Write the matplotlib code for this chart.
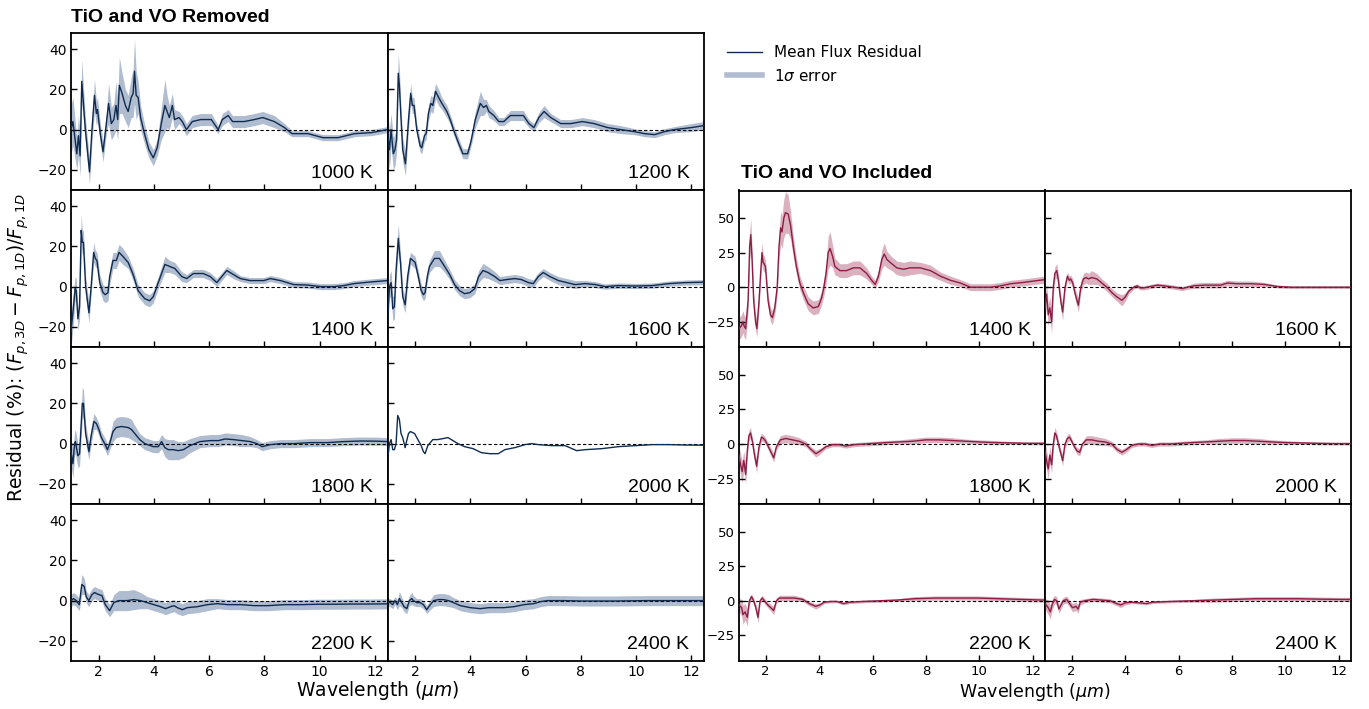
import numpy as np
import matplotlib
matplotlib.use("Agg")
import matplotlib.pyplot as plt
from matplotlib.lines import Line2D

# ---------------------------------------------------------------
# Mean flux residual (%) and 1-sigma spread, TiO/VO removed
# ---------------------------------------------------------------
wl_rm_1000 = [1.00, 1.07, 1.21, 1.27, 1.33, 1.39, 1.52, 1.67, 1.76, 1.85, 1.92, 1.96, 2.06, 2.16, 2.28, 2.36,
              2.46, 2.55, 2.63, 2.69, 2.75, 2.85, 2.97, 3.07, 3.18, 3.25, 3.30, 3.36, 3.43, 3.52, 3.66, 3.82,
              3.98, 4.12, 4.27, 4.40, 4.48, 4.56, 4.67, 4.75, 4.91, 5.03, 5.18, 5.39, 5.70, 6.08, 6.33, 6.48,
              6.69, 6.85, 7.27, 7.64, 7.94, 8.36, 8.73, 9.00, 9.58, 10.12, 10.67, 11.27, 11.88, 12.46]
mu_rm_1000 = [0, 4, -12, -3, -13, 24, 0, -21, 0, 17, 8, 10, -2, -11, 3, 13,
              3, 5, 12, 5, 22, 18, 12, 9, 16, 18, 29, 17, 16, 6, -2, -10,
              -14, -9, 3, 12, 9, 6, 12, 5, 6, 4, 0, 4, 5, 5, 0, 5,
              7, 4, 4, 5, 6, 4, 1, -2, -2, -4, -4, -2, -1.5, 0]
sd_rm_1000 = [12, 12, 8, 10, 10, 11, 6, 6, 6, 8, 6, 6, 5, 5, 5, 10,
              8, 8, 12, 10, 14, 10, 8, 8, 10, 12, 16, 12, 8, 6, 5, 4,
              4, 4, 8, 13, 8, 6, 6, 5, 3, 3, 3, 3, 3, 3, 2, 3,
              3, 3, 3, 3, 3, 3, 2, 1.5, 1.5, 1.5, 1.5, 1.5, 1.5, 1.5]

wl_rm_1200 = [1.00, 1.07, 1.13, 1.21, 1.27, 1.33, 1.39, 1.43, 1.48, 1.55, 1.65, 1.76, 1.84, 1.90, 1.96, 2.06,
              2.18, 2.24, 2.34, 2.40, 2.48, 2.57, 2.64, 2.74, 2.85, 2.97, 3.15, 3.27, 3.39, 3.58, 3.73, 3.90,
              4.02, 4.18, 4.36, 4.48, 4.58, 4.67, 4.85, 5.03, 5.21, 5.45, 5.70, 5.92, 6.12, 6.30, 6.48, 6.67,
              6.91, 7.27, 7.64, 8.06, 8.48, 8.97, 9.45, 9.94, 10.30, 10.67, 11.03, 11.39, 12.00, 12.46]
mu_rm_1200 = [-1, -10, 0, -12, -10, -5, 28, 22, 8, -10, -17, 5, 18, 12, 12, 0,
              -8, -9, -3, -2, 8, 13, 12, 19, 16, 13, 9, 5, 0, -7, -12, -12,
              -6, 5, 13, 11, 12, 9, 7, 4, 4, 7, 7, 7, 3, 1, 6, 9,
              6, 3, 3, 4, 3, 1, 0, -1, -2, -2.5, -1, 0, 1, 2]
sd_rm_1200 = [10, 10, 8, 8, 8, 6, 10, 8, 6, 6, 6, 5, 5, 4, 4, 3,
              3, 3, 3, 3, 4, 4, 4, 4, 4, 3, 3, 2.5, 2.5, 2.5, 2.5, 2.5,
              2.5, 4, 6, 4, 3, 3, 2.5, 2, 2, 2.5, 2.5, 2.5, 2, 2, 2.5, 3,
              2, 2, 2, 2, 2, 2, 2, 1.5, 1.5, 1.5, 1.5, 1.5, 2, 2]

wl_rm_1400 = [1.00, 1.09, 1.15, 1.19, 1.25, 1.31, 1.37, 1.41, 1.45, 1.53, 1.65, 1.73, 1.82, 1.88, 1.94, 2.04,
              2.16, 2.24, 2.34, 2.40, 2.52, 2.64, 2.74, 2.88, 3.07, 3.25, 3.43, 3.67, 3.85, 3.98, 4.16, 4.40,
              4.58, 4.76, 5.01, 5.19, 5.43, 5.79, 6.04, 6.28, 6.46, 6.64, 6.88, 7.13, 7.49, 7.98, 8.22, 8.58,
              9.07, 9.55, 10.04, 10.52, 10.88, 11.25, 11.85, 12.46]
mu_rm_1400 = [-22, -10, -1, -2, -16, -10, 28, 22, 22, 0, -13, 0, 17, 14, 13, 2,
              -3, -4, -3, 5, 13, 13, 17, 15, 12, 6, -2, -6, -7, -5, 2, 11,
              10, 9, 5, 4, 6.5, 6.5, 5, 2, 5, 8, 6, 4, 3, 3, 4, 3,
              1, 0.8, 0, 0, 0.5, 1.5, 2.3, 3]
sd_rm_1400 = [8, 8, 6, 6, 6, 6, 8, 6, 6, 5, 5, 4, 5, 4, 4, 4,
              4, 4, 4, 4, 4, 4, 4, 4, 3, 3, 3, 3, 3, 3, 3, 4,
              3, 3, 2.5, 2, 2, 2, 2, 2, 2, 2, 2, 1.5, 1.5, 1.5, 1.5, 1.5,
              1.5, 1.5, 1.5, 1.5, 1.5, 1.5, 1.5, 1.5]

wl_rm_1600 = [1.00, 1.07, 1.13, 1.19, 1.25, 1.31, 1.39, 1.47, 1.55, 1.64, 1.73, 1.83, 1.92, 2.00, 2.10, 2.22,
              2.30, 2.36, 2.44, 2.52, 2.70, 2.88, 3.07, 3.25, 3.43, 3.61, 3.79, 3.98, 4.16, 4.30, 4.46, 4.64,
              4.88, 5.07, 5.31, 5.61, 5.85, 6.10, 6.28, 6.46, 6.64, 6.88, 7.19, 7.49, 7.79, 8.16, 8.52, 8.88,
              9.37, 9.98, 10.58, 11.19, 11.79, 12.46]
mu_rm_1600 = [-17, 0, 2, -11, -10, 8, 24, 12, -5, -9, 5, 14, 13, 12, 6, -2,
              -4, -3, 5, 10, 14, 14, 10, 6, 1, -2, -3.5, -3, -1, 5, 8, 7,
              5, 3, 3.5, 4, 3.5, 2, 1.5, 5, 7, 5, 3, 2, 1, 1.5, 1, 0,
              0.5, 0.3, 0.5, 1.5, 2, 2.2]
sd_rm_1600 = [6, 6, 6, 6, 6, 5, 7, 5, 4, 4, 4, 3, 3, 3, 3, 3,
              3, 3, 3, 3, 4, 4, 3, 2.5, 2.5, 2.5, 2.5, 2.5, 2.5, 3, 3.5, 3,
              2.5, 2, 2, 2, 2, 2, 2, 2, 2, 2, 2, 2, 2, 1.5, 1.5, 1.3,
              1.3, 1.3, 1.3, 1.3, 1.3, 1.3]

wl_rm_1800 = [1.00, 1.07, 1.13, 1.16, 1.25, 1.31, 1.37, 1.41, 1.45, 1.53, 1.65, 1.73, 1.83, 1.92, 2.01, 2.10,
              2.22, 2.32, 2.40, 2.52, 2.64, 2.82, 3.07, 3.19, 3.31, 3.49, 3.67, 3.98, 4.16, 4.28, 4.40, 4.52,
              4.70, 4.88, 5.07, 5.31, 5.67, 6.04, 6.34, 6.58, 6.88, 7.19, 7.49, 7.73, 7.92, 8.22, 8.58, 9.07,
              9.67, 10.28, 10.88, 11.49, 12.10, 12.46]
mu_rm_1800 = [-4, -10, 0, 1, -6, -5, 10, 20, 20, 5, -4, 4, 11, 10, 7, 3,
              0, -3, 0, 6, 8, 8.5, 8, 7, 5, 2, 0, -1.5, -1.5, 1, -2, -3,
              -3, -3.5, -3, -1, 1, 1.5, 1.5, 2.3, 2, 1.5, 1, 0, -1.5, -0.5, 0, 0,
              0.5, 0.5, 1, 1.3, 1.2, 1]
sd_rm_1800 = [7, 7, 6, 6, 6, 6, 7, 8, 7, 5, 4, 4, 4, 3, 3, 3,
              3, 3, 3, 5, 5, 5, 5, 5, 4, 3, 3, 3, 3, 3.5, 4.5, 5,
              5, 4.5, 4, 3.5, 3, 3, 3, 3, 3, 3, 2.5, 2, 2, 2, 2, 2,
              2, 2, 2, 2, 2, 2]

wl_rm_2000 = [1.00, 1.03, 1.07, 1.13, 1.19, 1.25, 1.31, 1.37, 1.43, 1.49, 1.55, 1.64, 1.67, 1.76, 1.83, 1.98,
              2.10, 2.22, 2.30, 2.36, 2.46, 2.64, 2.82, 3.01, 3.19, 3.37, 3.55, 3.79, 4.10, 4.40, 4.70, 5.01,
              5.25, 5.61, 5.98, 6.22, 6.46, 6.95, 7.43, 7.85, 8.16, 8.76, 9.37, 9.98, 10.58, 11.19, 11.79, 12.46]
mu_rm_2000 = [-3, -5, 0, 2, -3, -3, 0, 14, 12, 5, 3, -2, 0, 5, 6, 5,
              2, -1, -4, -5, -1, 2, 2, 2.5, 3, 1.5, 0, -1.5, -2.5, -4.5, -5, -5,
              -3, -2, -0.5, 0, -0.5, -1, -1, -3.5, -3, -2.5, -1.5, -1, -0.5, -0.5, -0.7, -0.8]
sd_rm_2000 = None  # no spread shown at 2000 K

wl_rm_2200 = [1.00, 1.09, 1.19, 1.30, 1.39, 1.48, 1.55, 1.64, 1.76, 1.85, 2.00, 2.12, 2.24, 2.40,
              2.55, 2.73, 3.03, 3.27, 3.52, 3.76, 4.00, 4.24, 4.42, 4.61, 4.73, 4.85, 5.03, 5.21,
              5.58, 5.94, 6.30, 6.67, 7.15, 7.64, 8.12, 8.73, 9.33, 9.94, 10.55, 11.15, 11.76, 12.46]
mu_rm_2200 = [0, 1, 0, -2, 8, 7, 2, 0, 3, 4, 3, 2.5, -2, -5,
              -1, 0, 0, 0.5, 0, -1, -2, -3, -4, -3, -2.5, -3.5, -4.5, -3.5,
              -3, -2, -1.5, -2, -2, -2.5, -2.5, -2, -2, -1.8, -1.8, -1.7, -1.7, -1.6]
sd_rm_2200 = [3, 3, 3, 3, 5, 4, 3, 3, 3, 3, 3, 3, 3, 3,
              4, 5, 5, 5, 4, 3, 3, 3, 3, 3, 3, 3, 3, 3,
              3, 3, 2.5, 2.5, 2.5, 2.5, 2.5, 2.5, 2.5, 2.5, 2.5, 2.5, 2.5, 2.5]

wl_rm_2400 = [1.00, 1.09, 1.19, 1.27, 1.36, 1.43, 1.52, 1.60, 1.70, 1.79, 1.88, 1.94, 2.06, 2.18,
              2.30, 2.42, 2.55, 2.67, 2.85, 3.03, 3.21, 3.39, 3.64, 4.00, 4.36, 4.67, 4.91, 5.21,
              5.58, 5.94, 6.30, 6.55, 6.79, 7.39, 8.00, 8.61, 9.21, 9.82, 10.42, 11.03, 11.64, 12.46]
mu_rm_2400 = [-0.5, -1, -2, 0, -2, 1, -1, -3, -4, 0, 1, 0, -1, -1,
              -2, -4.5, -2, 0, 0.5, 0.5, 0, -1, -2.5, -3.5, -4, -3.5, -3.5, -3.5,
              -3, -2, -1.5, -0.5, 0, 0, -0.2, -0.2, -0.2, -0.1, 0, 0, 0, 0]
sd_rm_2400 = [2, 2, 2, 2, 2.5, 3.5, 2.5, 2.5, 2.5, 2.5, 3, 2.5, 2, 2,
              2, 2, 2.5, 3, 3, 3, 3, 2.5, 2.5, 2.5, 2.5, 2.5, 2.5, 2.5,
              2.5, 2.5, 2.5, 2.5, 2.5, 2.5, 2.5, 2.5, 2.5, 2.5, 2.5, 2.5, 2.5, 2.5]

# ---------------------------------------------------------------
# Mean flux residual (%) and 1-sigma spread, TiO/VO included
# ---------------------------------------------------------------
wl_in_1400 = [1.00, 1.09, 1.15, 1.19, 1.25, 1.34, 1.40, 1.44, 1.49, 1.55, 1.62, 1.67, 1.75, 1.81, 1.86, 1.90,
              1.94, 1.99, 2.03, 2.09, 2.18, 2.25, 2.34, 2.43, 2.50, 2.56, 2.61, 2.68, 2.74, 2.84, 2.93, 3.03,
              3.15, 3.28, 3.43, 3.59, 3.78, 3.97, 4.09, 4.18, 4.26, 4.34, 4.41, 4.51, 4.59, 4.78, 5.03, 5.28,
              5.53, 5.78, 5.97, 6.10, 6.22, 6.35, 6.44, 6.54, 6.72, 6.91, 7.16, 7.41, 7.79, 8.17, 8.54, 8.92,
              9.29, 9.67, 10.05, 10.42, 10.80, 11.17, 11.67, 12.05, 12.46]
mu_in_1400 = [-30, -28, -25, -28, -30, -10, 30, 38, 20, -10, -25, -30, -10, 10, 25, 18,
              17, 15, 5, -10, -20, -22, -15, 0, 30, 43, 40, 50, 54, 53, 45, 30,
              15, 3, -5, -12, -15, -14, -8, 0, 10, 25, 28, 22, 15, 12, 12, 14,
              14, 10, 5, 2, 8, 20, 24, 20, 17, 14, 13, 14, 14, 12, 8, 5,
              3, 0, 0, 0, 1, 2.5, 3.5, 4.5, 5.5]
sd_in_1400 = [8, 8, 8, 8, 8, 8, 10, 12, 8, 6, 6, 6, 6, 6, 8, 6,
              6, 5, 5, 5, 5, 5, 5, 6, 10, 12, 12, 14, 15, 14, 10, 8,
              6, 5, 5, 5, 5, 5, 5, 6, 8, 12, 12, 8, 6, 5, 5, 5,
              5, 4, 3, 3, 4, 7, 8, 6, 5, 5, 5, 5, 4, 4, 3, 3,
              2.5, 2.5, 2.5, 2.5, 2.5, 2.5, 2.5, 2.5, 2.5]

wl_in_1600 = [1.00, 1.06, 1.12, 1.18, 1.25, 1.31, 1.37, 1.44, 1.50, 1.59, 1.66, 1.75, 1.84, 1.91,
              1.96, 2.04, 2.13, 2.25, 2.34, 2.44, 2.54, 2.63, 2.75, 2.94, 3.13, 3.32, 3.51, 3.69,
              3.88, 4.01, 4.13, 4.32, 4.45, 4.57, 4.70, 4.95, 5.20, 5.45, 5.83, 6.14, 6.33, 6.58,
              6.96, 7.27, 7.58, 7.83, 8.21, 8.71, 9.21, 9.72, 10.22, 10.72, 11.22, 11.72, 12.46]
mu_in_1600 = [-15, -5, -20, -15, -25, 0, 10, 12, 5, -10, -18, 0, 8, 5,
              6, 3, -5, -13, 0, 6, 7, 6, 7, 6, 3, 0, -4, -7,
              -9.5, -7, -3, 0, 1, -0.5, -0.5, 0.5, 1.5, 1, 0, -1, 0, 1,
              1.5, 1.5, 1.5, 3, 2.5, 2.5, 2, 0.5, 0, 0, 0, 0, 0]
sd_in_1600 = [8, 8, 8, 8, 8, 6, 5, 5, 5, 5, 6, 4, 3, 3,
              3, 3, 4, 5, 4, 4, 4, 4, 5, 4, 3, 3, 3, 3,
              4, 3, 2, 1.5, 1.5, 1.5, 1.5, 1.5, 1.5, 1.5, 1.5, 1.5, 1.5, 2,
              2, 2, 2, 2, 2, 2, 1.5, 1, 1, 1, 1, 1, 1]

wl_in_1800 = [1.00, 1.06, 1.12, 1.18, 1.25, 1.31, 1.37, 1.43, 1.50, 1.58, 1.66, 1.75, 1.84, 1.92, 2.00, 2.10,
              2.20, 2.30, 2.40, 2.55, 2.75, 3.00, 3.25, 3.50, 3.70, 3.88, 4.05, 4.25, 4.50, 4.75, 5.00, 5.30,
              5.70, 6.10, 6.50, 7.00, 7.50, 8.00, 8.50, 9.00, 9.50, 10.00, 10.60, 11.20, 11.80, 12.46]
mu_in_1800 = [-8, -15, -20, -12, -22, -5, 6, 8, 2, -8, -16, -2, 5, 4, 2, -2,
              -6, -10, -2, 3, 4, 3, 2, 0, -4, -7, -5, -2, -0.5, -0.5, -1.5, -0.5,
              0, 0.5, 1, 1.5, 2, 3, 3, 2.5, 2, 1.5, 1, 0.8, 0.5, 0.5]
sd_in_1800 = [7, 8, 8, 7, 7, 5, 4, 4, 3, 4, 5, 3, 3, 2.5, 2.5, 2.5,
              3, 3, 2.5, 3, 3, 3, 2.5, 2, 2, 2.5, 2, 1.5, 1.5, 1.5, 1.5, 1.5,
              1.5, 1.5, 1.5, 1.5, 2, 2, 2, 2, 1.5, 1.5, 1.5, 1, 1, 1]

wl_in_2000 = [1.00, 1.06, 1.12, 1.18, 1.25, 1.31, 1.37, 1.43, 1.50, 1.58, 1.66, 1.75, 1.84, 1.92, 2.00, 2.10,
              2.20, 2.30, 2.40, 2.55, 2.75, 3.00, 3.25, 3.50, 3.70, 3.88, 4.05, 4.25, 4.50, 4.75, 5.00, 5.30,
              5.70, 6.10, 6.50, 7.00, 7.50, 8.00, 8.50, 9.00, 9.50, 10.00, 10.60, 11.20, 11.80, 12.46]
mu_in_2000 = [-5, -12, -18, -8, -15, 0, 8, 6, 0, -6, -12, 0, 4, 5, 2, -2,
              -5, -6, 0, 3, 3, 2, 1.5, 0, -4, -6, -4, -1, 0, 0, -1, 0,
              0, 0.5, 1, 1.5, 2, 2.5, 2.5, 2, 1.5, 1, 0.8, 0.5, 0.3, 0.3]
sd_in_2000 = [6, 7, 7, 6, 6, 4, 4, 3, 3, 3, 4, 3, 3, 2.5, 2, 2,
              2.5, 2.5, 2, 3, 3, 3, 2.5, 2, 2, 2, 2, 1.5, 1.5, 1.5, 1.5, 1.5,
              1.5, 1.5, 1.5, 1.5, 2, 2, 2, 2, 1.5, 1.5, 1, 1, 1, 1]

wl_in_2200 = [1.00, 1.10, 1.15, 1.23, 1.31, 1.39, 1.47, 1.55, 1.63, 1.71, 1.79, 1.87, 1.95,
              2.08, 2.19, 2.30, 2.40, 2.51, 2.75, 3.07, 3.39, 3.63, 3.87, 4.03, 4.19, 4.43,
              4.67, 4.91, 5.15, 5.63, 6.27, 6.91, 7.55, 8.35, 9.15, 9.95, 10.75, 11.55, 12.46]
mu_in_2200 = [-3, -5, -10, -8, -12, 0, 3, 0, -5, -12, 0, 2, 0,
              -3, -5, -7, 0, 2, 2, 2, 1, -2, -4, -3, -1, -0.5,
              -0.5, -2, -1, -0.5, 0, 0.5, 1.5, 2, 2, 2, 1.5, 1, 0.5]
sd_in_2200 = [5, 6, 7, 6, 6, 3, 2, 2, 3, 4, 2, 2, 2,
              2, 2.5, 3, 2, 2, 2, 2, 1.5, 1.5, 2, 1.5, 1, 1,
              1, 1, 1, 1, 1, 1, 1.5, 1.5, 1.5, 1.5, 1.5, 1.5, 1.5]

wl_in_2400 = [1.00, 1.12, 1.20, 1.28, 1.36, 1.44, 1.52, 1.60, 1.68, 1.81, 1.92, 2.03, 2.16, 2.24, 2.32, 2.48,
              2.80, 3.12, 3.44, 3.68, 3.84, 4.00, 4.24, 4.56, 4.80, 5.04, 5.68, 6.48, 7.28, 8.08, 8.88, 9.68,
              10.48, 11.28, 12.08, 12.46]
mu_in_2400 = [-2, -5, -8, -2, 1, 0, -6, -3, 0, 1, -2, -5, -4, -6, -1, 0,
              1, 0.5, 0, -2, -3, -1.5, -1, -1.5, -2, -1, -0.5, 0, 0.5, 1, 1.5, 1.5,
              1.5, 1.2, 1, 1]
sd_in_2400 = [4, 5, 5, 4, 3, 3, 3, 3, 2.5, 2.5, 2.5, 3, 3, 3, 2, 1.5,
              1.5, 1.5, 1.5, 1.5, 2, 1.5, 1, 1, 1, 1, 1, 1, 1.5, 1.5, 1.5, 1.5,
              1.5, 1.5, 1.5, 1.5]

temps_removed = [1000, 1200, 1400, 1600, 1800, 2000, 2200, 2400]
temps_included = [1400, 1600, 1800, 2000, 2200, 2400]

removed = {
    1000: (wl_rm_1000, mu_rm_1000, sd_rm_1000), 1200: (wl_rm_1200, mu_rm_1200, sd_rm_1200),
    1400: (wl_rm_1400, mu_rm_1400, sd_rm_1400), 1600: (wl_rm_1600, mu_rm_1600, sd_rm_1600),
    1800: (wl_rm_1800, mu_rm_1800, sd_rm_1800), 2000: (wl_rm_2000, mu_rm_2000, sd_rm_2000),
    2200: (wl_rm_2200, mu_rm_2200, sd_rm_2200), 2400: (wl_rm_2400, mu_rm_2400, sd_rm_2400),
}
included = {
    1400: (wl_in_1400, mu_in_1400, sd_in_1400), 1600: (wl_in_1600, mu_in_1600, sd_in_1600),
    1800: (wl_in_1800, mu_in_1800, sd_in_1800), 2000: (wl_in_2000, mu_in_2000, sd_in_2000),
    2200: (wl_in_2200, mu_in_2200, sd_in_2200), 2400: (wl_in_2400, mu_in_2400, sd_in_2400),
}

# ---------------------------------------------------------------
# Figure
# ---------------------------------------------------------------
W, H = 1369, 709
fig = plt.figure(figsize=(W / 100, H / 100), dpi=100)
plt.rcParams['font.family'] = ['DejaVu Sans']

NAVY, NAVY_FILL = '#0f2b4f', '#b0bccf'
WINE, WINE_FILL = '#8c1d45', '#dbb1c0'
XLIM = (1.0, 12.46)
LABEL_FONT = 'Liberation Sans'


def draw_panel(ax, data, temp, line_c, fill_c, ylim, yticks, show_y, show_x, tick_fs):
    wl, mu, sd = data
    wl = np.asarray(wl, float)
    mu = np.asarray(mu, float)
    if sd is not None:
        sd = np.asarray(sd, float)
        ax.fill_between(wl, mu - sd, mu + sd, color=fill_c, lw=0, zorder=1)
    ax.plot(wl, mu, color=line_c, lw=1.0, zorder=3)
    ax.axhline(0, color='black', lw=0.8, ls=(0, (3, 2)), zorder=2)
    ax.set_xlim(*XLIM)
    ax.set_ylim(*ylim)
    ax.set_xticks([2, 4, 6, 8, 10, 12])
    ax.set_yticks(yticks)
    ax.tick_params(direction='in', length=4, width=1, labelsize=tick_fs,
                   top=False, right=False, labelleft=show_y, labelbottom=show_x, pad=3)
    for s in ax.spines.values():
        s.set_linewidth(1.3)
    ax.text(0.954, 0.076, f'{temp} K', transform=ax.transAxes, ha='right', va='baseline',
            fontsize=14, family=LABEL_FONT)


# left block: 4 x 2 panels
L0, CW, T0, RH = 71, 316.5, 33, 157
for i, t in enumerate(temps_removed):
    r, c = divmod(i, 2)
    ax = fig.add_axes([(L0 + c * CW) / W, 1 - (T0 + (r + 1) * RH) / H, CW / W, RH / H])
    draw_panel(ax, removed[t], t, NAVY, NAVY_FILL, (-30, 48), [-20, 0, 20, 40],
               c == 0, r == 3, 10)

# right block: 3 x 2 panels
L1, CW1, T1, RH1 = 739, 306, 190.5, 156.8
for i, t in enumerate(temps_included):
    r, c = divmod(i, 2)
    ax = fig.add_axes([(L1 + c * CW1) / W, 1 - (T1 + (r + 1) * RH1) / H, CW1 / W, RH1 / H])
    draw_panel(ax, included[t], t, WINE, WINE_FILL, (-43.5, 70), [-25, 0, 25, 50],
               c == 0, r == 2, 9.5)

# titles and axis labels
fig.text(71 / W, 1 - 17 / H, 'TiO and VO Removed', fontsize=14, fontweight='bold',
         family=LABEL_FONT, ha='left', va='center')
fig.text(741 / W, 1 - 173 / H, 'TiO and VO Included', fontsize=14, fontweight='bold',
         family=LABEL_FONT, ha='left', va='center')
fig.text(18 / W, 1 - 347 / H, r'Residual (%): $(F_{p,3D} - F_{p,1D})/F_{p,1D}$',
         rotation=90, fontsize=13.5, ha='center', va='center')
fig.text(378 / W, 1 - 691 / H, r'Wavelength ($\mu m$)', fontsize=13.5, ha='center', va='center')
fig.text(1035 / W, 1 - 692 / H, r'Wavelength ($\mu m$)', fontsize=12.5, ha='center', va='center')

# legend
handles = [Line2D([], [], color=NAVY, lw=1.0), Line2D([], [], color=NAVY_FILL, lw=4)]
fig.legend(handles, ['Mean Flux Residual', r'1$\sigma$ error'], loc='upper left',
           bbox_to_anchor=(727 / W, 1 - 45 / H), frameon=False, fontsize=11,
           handlelength=2.3, handletextpad=0.75, labelspacing=0.5,
           borderaxespad=0, borderpad=0)

fig.savefig('out.png', dpi=100)
